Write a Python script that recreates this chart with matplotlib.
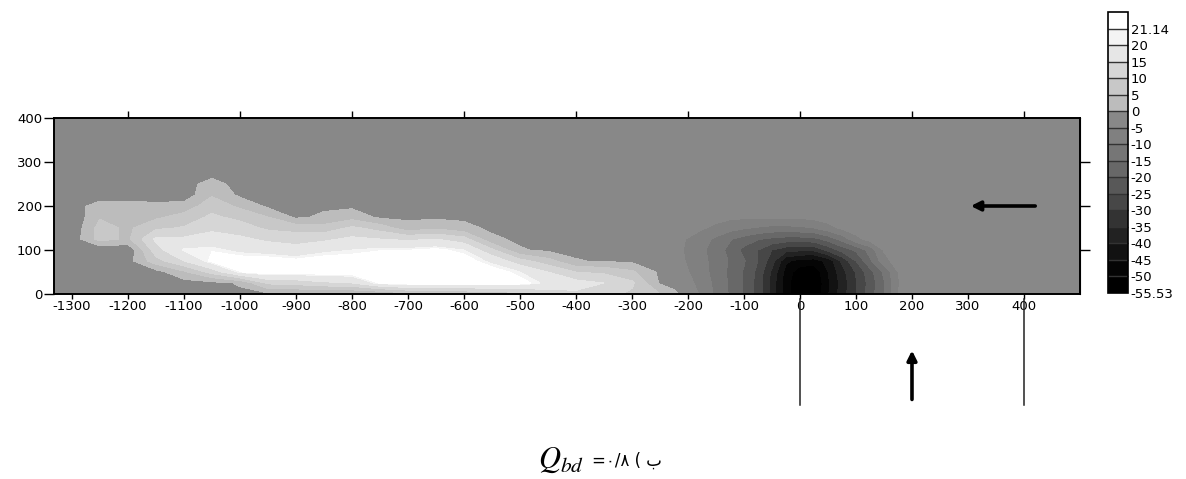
import numpy as np
import matplotlib
matplotlib.use('Agg')
import matplotlib.pyplot as plt

plt.rcParams['font.family'] = ['DejaVu Sans']
plt.rcParams['mathtext.fontset'] = 'stix'

# contour levels of bed change and their grey shades (lowest first)
levels = [-55.53, -50, -45, -40, -35, -30, -25, -20, -15, -10, -5, 0, 5, 10, 15, 20, 21.14, 25]
level_labels = ['-55.53', '-50', '-45', '-40', '-35', '-30', '-25', '-20', '-15', '-10',
                '-5', '0', '5', '10', '15', '20', '21.14']
shades = ['#000000', '#050505', '#121212', '#222222', '#333333', '#474747', '#585858',
          '#686868', '#767676', '#808080', '#888888', '#bcbcbc', '#c8c8c8', '#d6d6d6',
          '#e6e6e6', '#f4f4f4', '#ffffff']

# untouched bed
bed_flat = -1.0

# survey stations: coarse upstream, finer around the pier
x_nodes = np.concatenate([np.arange(-1350, -249, 50), np.arange(-225, 251, 25),
                          np.arange(300, 501, 50)])
y_nodes = np.array([0, 25, 50, 75, 100, 125, 150, 175, 200, 225, 250, 275, 300, 400])

# deposition bar: one profile per x station, values at y = 0, 25, ..., 250
dep_x = [-1300, -1250, -1200, -1150, -1100, -1050, -1000, -950, -900, -850, -800,
         -750, -700, -650, -600, -550, -500, -450, -400, -350, -300, -250]
dep_profiles = [
    [-1, -1, -1, -1, -1, -3, -4, -4, -3, -1, -1],
    [-1, -1, -1, -1, -4, 7, 7, 4.5, 3, -4, -1],
    [-1, -1, -1, -2, -4, 4, 4, 3.5, 3, -4, -1],
    [-1, -1, -2, 8, 13, 16, 9, 4, 1.5, -3, -1],
    [-1, -2, 4, 15, 20.5, 16, 10.5, 7, 2, -3, -1],
    [-1, -1.5, 12, 22, 21, 17, 14, 11, 8, 4.5, 1],
    [-1, 0.5, 21, 23, 19, 16, 12.5, 8.5, 4, -1, -1],
    [-1, 11, 23, 23, 18, 14, 9, 5, -1, -1, -1],
    [-1, 12, 22.5, 22, 17, 13, 8, -1, -1, -1, -1],
    [-1, 14, 23, 23, 19, 14, 7, 1, -1, -1, -1],
    [-1, 15, 23, 23, 20, 16, 11, 3, -1, -1, -1],
    [-0.5, 21.5, 23, 23, 21, 15, 8, -1, -1, -1, -1],
    [3, 23, 23.5, 23, 21, 14, 2, -1, -1, -1, -1],
    [4, 23, 24, 23.5, 22, 15, 4, -1, -1, -1, -1],
    [5, 23, 23.5, 23, 20, 12, 1.5, -1, -1, -1, -1],
    [6, 23, 23, 19, 11, 1, -1, -1, -1, -1, -1],
    [8, 22.5, 20, 12, 0.5, -1, -1, -1, -1, -1, -1],
    [12, 19, 15, 7, -1, -1, -1, -1, -1, -1, -1],
    [14, 17, 10, 0.3, -1, -1, -1, -1, -1, -1, -1],
    [12, 15, 9, -0.5, -1, -1, -1, -1, -1, -1, -1],
    [9, 11, 6, -1, -1, -1, -1, -1, -1, -1, -1],
    [5, -0.5, -1, -1, -1, -1, -1, -1, -1, -1, -1],
]

# scour hole around the pier: rows at y = 0, 25, ..., 175
scour_x = [-225, -200, -175, -150, -125, -100, -75, -50, -25, 0,
           25, 50, 75, 100, 125, 150, 175, 200, 225, 250]
scour_rows = [
    [1, -2, -6, -11, -15.6, -20.7, -27, -37, -48, -54, -55.5, -45.5, -37.5, -30, -22.5, -15, -5, -1.5, -1, -1],
    [-1.5, -3.5, -7, -11.5, -15.8, -20.5, -27, -37, -48, -54.5, -55.5, -46, -38, -30.5, -23, -15.5, -5.5, -1.5, -1, -1],
    [-2.5, -4.8, -8, -12, -16, -20.5, -26.5, -36, -47, -53, -54, -45, -37, -29.5, -22, -14, -5, -1.5, -1, -1],
    [-3, -5.5, -8.5, -12, -15.5, -19.5, -25, -33, -44, -47, -47.5, -43.5, -34, -25, -16, -7, -2.5, -1.5, -1, -1],
    [-3, -6, -9, -12.5, -16.5, -21.5, -25, -30, -33, -34, -34, -28.5, -23, -19, -13, -4.5, -2, -1.5, -1, -1],
    [-3.5, -5.3, -8, -11, -14.5, -17, -19.5, -21, -22, -22, -21.5, -18, -13, -6.5, -3, -2, -1.5, -1, -1, -1],
    [-1.5, -2.5, -4.5, -6, -8, -9.5, -10.5, -11.5, -11.5, -11, -10, -7, -4, -2.5, -1.5, -1, -1, -1, -1, -1],
    [-1, -1.5, -2.5, -3.5, -4, -4.2, -4.3, -4.3, -4.2, -4, -3.5, -2.5, -2, -1.5, -1, -1, -1, -1, -1, -1],
]

tick_x = list(range(-1300, 401, 100))

# assemble the bed field
field = np.full((len(y_nodes), len(x_nodes)), bed_flat)
dep = np.array(dep_profiles).T
i0 = np.searchsorted(x_nodes, dep_x[0])
field[:dep.shape[0], i0:i0 + dep.shape[1]] = dep
sc = np.array(scour_rows)
j0 = np.searchsorted(x_nodes, scour_x[0])
field[:sc.shape[0], j0:j0 + sc.shape[1]] = sc

W, H = 1186, 479
fig = plt.figure(figsize=(W / 100, H / 100), dpi=100)
ax = fig.add_axes([54 / W, 185 / H, 1026 / W, 176 / H])
cs = ax.contourf(x_nodes, y_nodes, field, levels=levels, colors=shades)
ax.set_xlim(-1332, 500)
ax.set_ylim(0, 400)

ax.set_xticks(tick_x)
ax.set_xticklabels([str(v) for v in tick_x])
ax.set_yticks([0, 100, 200, 300, 400])
ax.tick_params(axis='x', direction='out', length=3.5, width=1, labelsize=9.5, pad=1)
ax.tick_params(axis='y', direction='out', length=7, width=1, labelsize=9.5, pad=1.5)
for sp in ax.spines.values():
    sp.set_linewidth(1.4)

top = ax.secondary_xaxis('top')
top.set_xticks(list(range(-1200, 401, 200)))
top.set_xticklabels([])
top.tick_params(direction='out', length=5, width=1)
right = ax.secondary_yaxis('right')
right.set_yticks([100, 200, 300])
right.set_yticklabels([])
right.tick_params(direction='out', length=7, width=1)

# flow direction arrow
ax.annotate('', xy=(300, 200), xytext=(425, 200),
            arrowprops=dict(arrowstyle='-|>', lw=2.6, color='black', mutation_scale=14))

# pier markers below the channel
for xv in (0, 400):
    ax.plot([xv, xv], [-12, -252], color='#222222', lw=1.1, clip_on=False)
ax.annotate('', xy=(200, -122), xytext=(200, -246), annotation_clip=False,
            arrowprops=dict(arrowstyle='-|>', lw=2.6, color='black', mutation_scale=14))

cax = fig.add_axes([1108 / W, 186 / H, 20 / W, 281 / H])
cb = fig.colorbar(cs, cax=cax, ticks=levels[:-1], drawedges=True)
cb.ax.set_yticklabels(level_labels)
cb.ax.tick_params(length=0, pad=2, labelsize=9.5)
cb.outline.set_linewidth(1.2)
cb.dividers.set_color('#333333')
cb.dividers.set_linewidth(1)

fig.text(538 / W, 1 - 468 / H, r'$Q_{bd}$', fontsize=22, ha='left', va='baseline')
fig.text(592 / W, 1 - 466 / H, '=۰/۸ ( ب', fontsize=12, ha='left', va='baseline')

fig.savefig('out.png', dpi=100)
